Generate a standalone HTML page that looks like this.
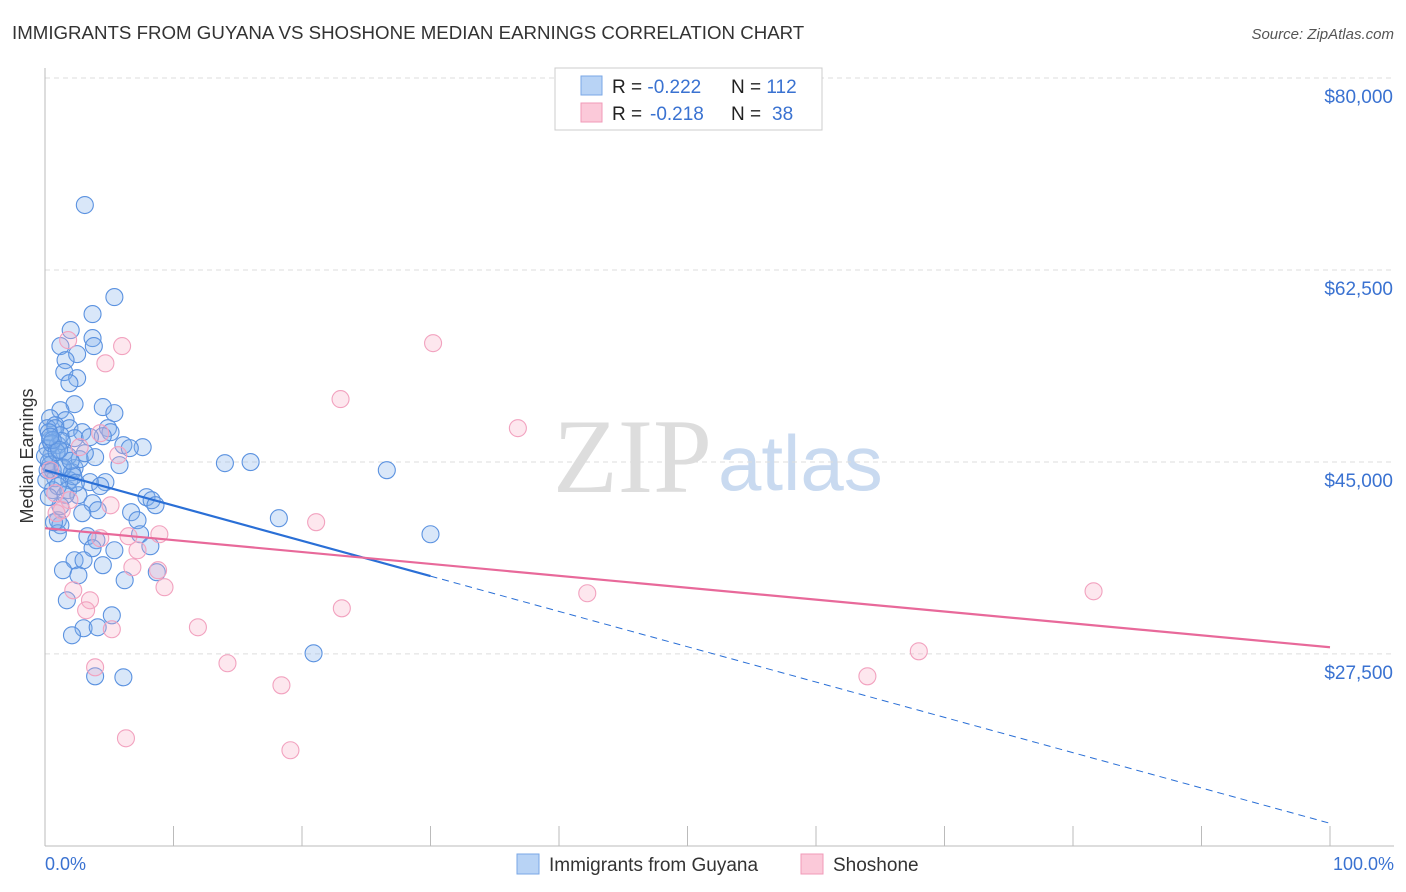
<!DOCTYPE html>
<html><head><meta charset="utf-8"><style>
body{margin:0;background:#fff;font-family:"Liberation Sans",sans-serif}
svg{display:block}
</style></head><body>
<svg id="c" width="1406" height="892" xmlns="http://www.w3.org/2000/svg">
<text x="12" y="39" font-size="18.7" fill="#333">IMMIGRANTS FROM GUYANA VS SHOSHONE MEDIAN EARNINGS CORRELATION CHART</text>
<text x="1394" y="39" font-size="15" fill="#555" font-style="italic" text-anchor="end">Source: ZipAtlas.com</text>
<text x="553" y="492" font-size="106" fill="#ddd" font-family="Liberation Serif">ZIP</text>
<text x="718" y="490" font-size="78" fill="#c9daf0">atlas</text>
<g id="grid"></g>
<line x1="45" y1="68" x2="45" y2="846" stroke="#bbb"/>
<line x1="45" y1="846" x2="1394" y2="846" stroke="#bbb"/>
<g id="xt"></g>
<text x="33" y="456" font-size="18" fill="#333" text-anchor="middle" transform="rotate(-90 33 456)">Median Earnings</text>
<text x="45" y="870" font-size="18" fill="#3a72d1">0.0%</text>
<text x="1394" y="870" font-size="18" fill="#3a72d1" text-anchor="end">100.0%</text>
<g id="pts"></g>
<g id="lines"></g>
<g>
<rect x="555" y="68" width="267" height="62" fill="#fff" stroke="#ccc"/>
<rect x="581" y="76" width="21" height="19" fill="#b8d3f5" stroke="#7aa7e6"/>
<rect x="581" y="103" width="21" height="19" fill="#fbc9d9" stroke="#f09ab8"/>
<text x="612" y="93" font-size="19" fill="#222">R = <tspan fill="#3a72d1">-0.222</tspan><tspan x="731">N = </tspan><tspan fill="#3a72d1">112</tspan></text>
<text x="612" y="120" font-size="19" fill="#222">R = <tspan fill="#3a72d1" x="650">-0.218</tspan><tspan x="731">N = </tspan><tspan fill="#3a72d1" x="772">38</tspan></text>
</g>
<g>
<rect x="517" y="854" width="22" height="20" fill="#b8d3f5" stroke="#7aa7e6"/>
<text x="549" y="871" font-size="19" fill="#333">Immigrants from Guyana</text>
<rect x="801" y="854" width="22" height="20" fill="#fbc9d9" stroke="#f09ab8"/>
<text x="833" y="871" font-size="19" fill="#333">Shoshone</text>
</g>
</svg>
<script>
const yTicks=[80000,62500,45000,27500];
const yTickLabels=["$80,000","$62,500","$45,000","$27,500"];
const xTicks=[0,10,20,30,40,50,60,70,80,90,100];
const blueX=[3.1,5.4,3.7,2.0,3.7,1.2,3.8,2.5,1.6,1.5,2.5,1.9,2.3,4.5,5.4,1.2,0.4,1.6,0.8,1.9,2.9,4.9,5.1,4.5,6.1,7.6,6.6,0.4,1.0,2.3,3.5,0.5,1.5,3.9,5.8,0.3,1.3,2.3,14.0,16.0,26.6,0.8,1.9,3.5,4.7,0.6,1.8,2.6,7.9,8.3,3.7,4.1,8.6,6.7,1.0,1.2,18.2,7.2,30.0,1.0,3.3,4.0,7.4,8.2,5.4,3.7,2.3,3.0,1.4,4.5,2.6,8.7,6.2,1.7,5.2,3.0,4.1,2.1,20.9,3.9,6.1,0.2,0.2,0.2,0.4,0.6,0.0,0.1,0.8,1.2,1.3,1.8,2.1,2.7,3.1,1.6,4.3,2.9,1.2,0.3,0.5,0.9,1.4,2.2,0.6,1.0,0.3,0.7,2.0,1.1,0.4,2.4];
const blueY=[68420,60030,58480,57020,56290,55560,55560,54830,54280,53190,52640,52180,50270,50000,49450,49720,48990,48810,48350,48080,47710,48080,47710,47350,46530,46350,46260,46990,46530,47170,47260,45620,45890,45440,44710,44990,44440,44440,44890,44990,44250,43520,43340,43160,43160,42430,42430,41970,41790,41510,41240,40600,41060,40420,39690,39230,39870,39690,38410,38500,38230,37870,38410,37320,36950,37140,36040,36040,35130,35590,34670,34950,34220,32390,31020,29840,29930,29200,27560,25460,25370,48080,46260,44250,44720,44250,45530,43340,48080,47440,46900,45530,44060,45250,45800,42000,42800,40330,40970,47700,46700,45900,44500,43700,47000,42800,41800,39500,45100,46100,47300,43100];
const pinkX=[1.8,4.7,6.0,30.2,23.0,36.8,2.7,5.7,1.9,1.3,0.9,21.1,6.5,8.9,7.2,6.8,8.8,9.3,42.2,81.6,2.2,3.5,3.2,23.1,5.2,11.9,68.0,3.9,14.2,64.0,18.4,6.3,19.1,0.4,0.8,4.3,4.3,5.1];
const pinkY=[56110,53990,55560,55830,50730,48080,46350,45620,41510,40600,40330,39510,38230,38410,36950,35400,35130,33580,33030,33210,33300,32390,31480,31660,29750,29930,27740,26280,26650,25460,24640,19810,18720,44250,42150,47620,38050,41050];
const blueTrend=[44250,12060];
const pinkTrend=[38960,28110];
const sx=v=>45+v*12.85;
const sy=v=>78+(80000-v)/1000*10.97;
const NS="http://www.w3.org/2000/svg";
function mk(t,a,p){const e=document.createElementNS(NS,t);for(const k in a)e.setAttribute(k,a[k]);p.appendChild(e);return e;}
const g=document.getElementById('grid');
yTicks.forEach((v,i)=>{
const l=mk('line',{x1:45,x2:1394,y1:sy(v),y2:sy(v),stroke:'#ddd','stroke-dasharray':'5,4'},g);


const t=mk('text',{x:1393,y:sy(v)+25,'font-size':19,fill:'#3a72d1','text-anchor':'end'},g);
t.textContent=yTickLabels[i];


});
const xt=document.getElementById('xt');
xTicks.forEach(v=>{
const l=mk('line',{x1:sx(v),x2:sx(v),y1:826,y2:846,stroke:'#bbb'},xt);


});
const pts=document.getElementById('pts');
blueX.forEach((x,i)=>{
const c=mk('circle',{cx:sx(x),cy:sy(blueY[i]),r:8.5,fill:'rgba(130,175,235,0.3)',stroke:'#5b92e0','stroke-width':1.1},pts);


});
pinkX.forEach((x,i)=>{
const c=mk('circle',{cx:sx(x),cy:sy(pinkY[i]),r:8.5,fill:'rgba(248,175,200,0.3)',stroke:'#f2a2bf','stroke-width':1.1},pts);


});
const ln=document.getElementById('lines');
const bAt=x=>blueTrend[0]+(blueTrend[1]-blueTrend[0])*x/100;
const b1=mk('line',{x1:sx(0),y1:sy(bAt(0)),x2:sx(30),y2:sy(bAt(30)),stroke:'#2a6fd6','stroke-width':2.2},ln);


const b2=mk('line',{x1:sx(30),y1:sy(bAt(30)),x2:sx(100),y2:sy(bAt(100)),stroke:'#2a6fd6','stroke-width':1,'stroke-dasharray':'7,5'},ln);


const p1=mk('line',{x1:sx(0),y1:sy(pinkTrend[0]),x2:sx(100),y2:sy(pinkTrend[1]),stroke:'#e8699a','stroke-width':2.2},ln);


</script>
</body></html>
